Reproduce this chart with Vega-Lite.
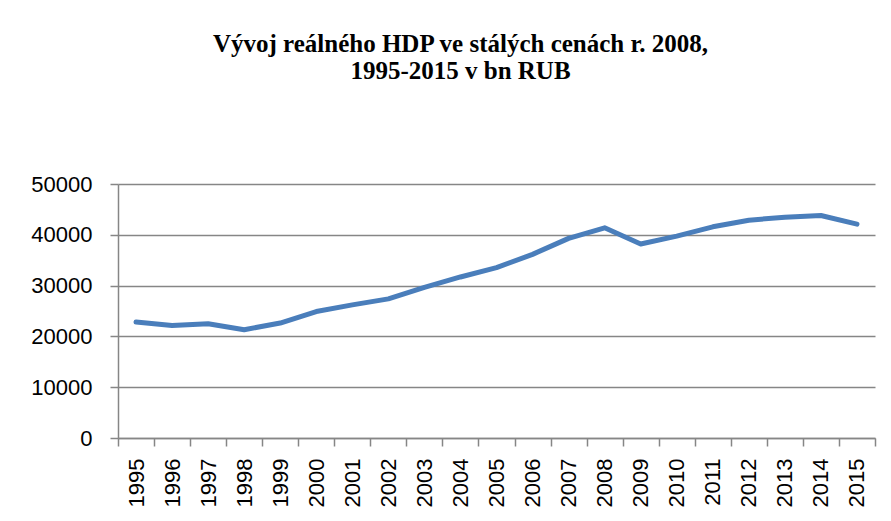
{
  "$schema": "https://vega.github.io/schema/vega-lite/v6.json",
  "autosize": "none",
  "width": 757,
  "height": 254,
  "padding": {"left": 118, "top": 184, "right": 16, "bottom": 83},
  "background": "white",
  "title": {
    "text": ["Vývoj reálného HDP ve stálých cenách r. 2008,", "1995-2015 v bn RUB"],
    "font": "Liberation Serif",
    "fontSize": 25,
    "fontWeight": "bold",
    "color": "black",
    "lineHeight": 27,
    "anchor": "middle",
    "dx": -36,
    "offset": 89
  },
  "data": {
    "values": [
      {"year": "1995", "gdp": 22820},
      {"year": "1996", "gdp": 22160},
      {"year": "1997", "gdp": 22490},
      {"year": "1998", "gdp": 21310},
      {"year": "1999", "gdp": 22630},
      {"year": "2000", "gdp": 24900},
      {"year": "2001", "gdp": 26200},
      {"year": "2002", "gdp": 27390},
      {"year": "2003", "gdp": 29650},
      {"year": "2004", "gdp": 31700},
      {"year": "2005", "gdp": 33530},
      {"year": "2006", "gdp": 36150},
      {"year": "2007", "gdp": 39290},
      {"year": "2008", "gdp": 41370},
      {"year": "2009", "gdp": 38180},
      {"year": "2010", "gdp": 39750},
      {"year": "2011", "gdp": 41570},
      {"year": "2012", "gdp": 42880},
      {"year": "2013", "gdp": 43470},
      {"year": "2014", "gdp": 43800},
      {"year": "2015", "gdp": 42100}
    ]
  },
  "mark": {"type": "line", "color": "#4a7ebb", "strokeWidth": 5, "strokeCap": "round", "strokeJoin": "round"},
  "encoding": {
    "x": {
      "field": "year",
      "type": "ordinal",
      "scale": {"type": "band", "paddingInner": 0, "paddingOuter": 0},
      "axis": {
        "title": null,
        "labelAngle": -90,
        "labelFont": "Liberation Sans",
        "labelFontSize": 22,
        "labelColor": "black",
        "labelPadding": 12,
        "tickBand": "extent",
        "tickSize": 8,
        "tickColor": "#868686",
        "tickWidth": 1.5,
        "domainColor": "#868686",
        "domainWidth": 1.5,
        "grid": false
      }
    },
    "y": {
      "field": "gdp",
      "type": "quantitative",
      "scale": {"domain": [0, 50000], "nice": false},
      "axis": {
        "title": null,
        "values": [0, 10000, 20000, 30000, 40000, 50000],
        "format": "d",
        "labelFont": "Liberation Sans",
        "labelFontSize": 22,
        "labelColor": "black",
        "labelPadding": 18,
        "tickSize": 8,
        "tickColor": "#868686",
        "tickWidth": 1.5,
        "domainColor": "#868686",
        "domainWidth": 1.5,
        "grid": true,
        "gridColor": "#868686",
        "gridWidth": 1.5
      }
    }
  },
  "config": {"view": {"stroke": null}}
}
